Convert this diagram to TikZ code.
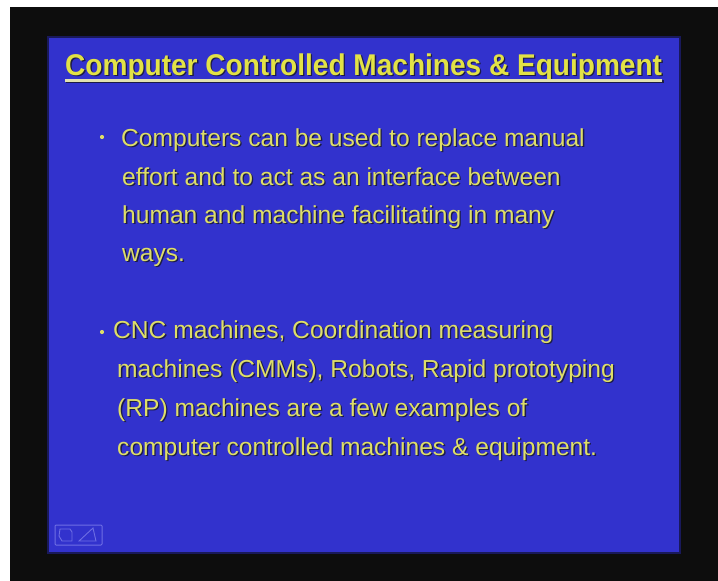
\documentclass[tikz,border=0pt]{standalone}
\usepackage{fontspec}
\setmainfont{Liberation Sans}
\newfontfamily\titlefont{Liberation Sans}[FakeStretch=0.935]
\usetikzlibrary{positioning}
\definecolor{slideblue}{RGB}{50,50,205}
\definecolor{slideedge}{RGB}{25,25,90}
\definecolor{titleyellow}{RGB}{226,226,70}
\definecolor{textyellow}{RGB}{222,222,104}
\definecolor{ruleyellow}{RGB}{226,226,176}
\definecolor{txtshadow}{RGB}{28,28,70}
\definecolor{iconblue}{RGB}{110,110,228}
\newcommand{\shadowed}[1]{\rlap{\kern1.3pt\raisebox{-1.3pt}{\color{txtshadow}#1}}#1}
\tikzset{
  ttl/.style={anchor=base west, inner sep=0pt, text=titleyellow, font=\titlefont\fontsize{30}{32}\selectfont\bfseries},
  txt/.style={anchor=base west, inner sep=0pt, text=textyellow, font=\fontsize{24.6}{30}\selectfont},
  dot/.style={circle, fill=textyellow, draw=none, inner sep=0pt, minimum size=4.2pt},
}

\begin{document}
\begin{tikzpicture}[x=1pt,y=-1pt]
        \useasboundingbox (0,0) rectangle (718,581);
        % screen
        \fill[white] (0,0) rectangle (718,581);
        \fill[black!95] (10,7) rectangle (718,581);
        \fill[slideblue] (48,37) rectangle (680,553);
        \draw[slideedge,line width=1.2pt] (48,37) rectangle (680,553);
        % title
        \node[ttl](title) at (65,75){\shadowed{Computer Controlled Machines \& Equipment}};
        \draw[txtshadow,line width=3pt] ([xshift=1.3pt,yshift=-6.6pt]title.base west) -- ([xshift=1.3pt,yshift=-6.6pt]title.base east);
        \draw[ruleyellow,line width=3pt] ([yshift=-5.2pt]title.base west) -- ([yshift=-5.2pt]title.base east);
        % first point
        \node[dot](d1) at (102,137){};
        \node[txt](a1) at (121,146){\shadowed{Computers can be used to replace manual}};
        \node[txt](a2) at (122,185){\shadowed{effort and to act as an interface between}};
        \node[txt](a3) at (122,223){\shadowed{human and machine facilitating in many}};
        \node[txt](a4) at (122,261){\shadowed{ways.}};
        % second point
        \node[dot](d2) at (102,332){};
        \node[txt](b1) at (113,338){\shadowed{CNC machines, Coordination measuring}};
        \node[txt](b2) at (117,377){\shadowed{machines (CMMs), Robots, Rapid prototyping}};
        \node[txt](b3) at (117,416){\shadowed{(RP) machines are a few examples of}};
        \node[txt](b4) at (117,455){\shadowed{computer controlled machines \& equipment.}};
        % nav button
        \draw[iconblue,line width=1pt,rounded corners=1pt] (55,525) rectangle (102,545);
        \draw[iconblue,line width=0.9pt] (60,529) -- (70,529) -- (72,532) -- (72,541) -- (62,541) -- (59,536) -- cycle;
        \draw[iconblue,line width=0.9pt] (79,541) -- (93,528) -- (96,541) -- cycle;
    \end{tikzpicture}
\end{document}
